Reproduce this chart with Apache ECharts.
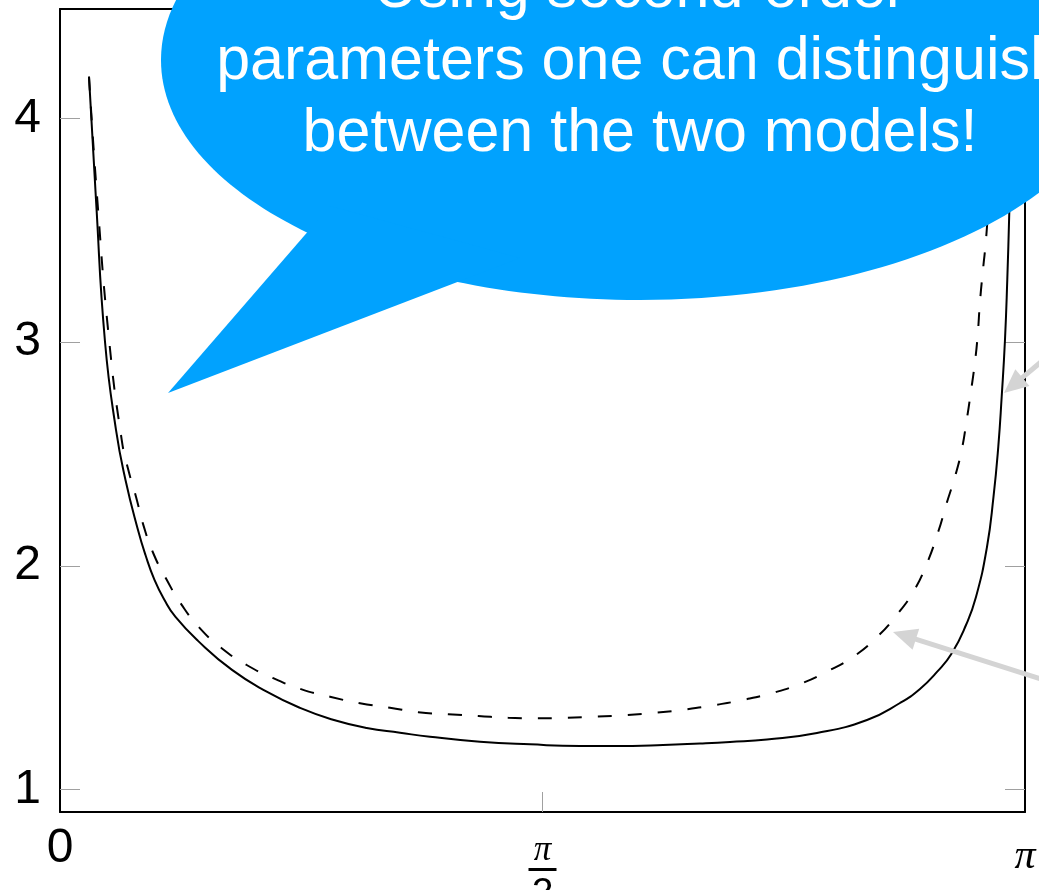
<!DOCTYPE html>
<html>
<head>
<meta charset="utf-8">
<script src="https://cdn.jsdelivr.net/npm/echarts@6/dist/echarts.min.js"></script>
<style>
  html, body { margin: 0; padding: 0; background: #ffffff; }
  #chart { width: 1039px; height: 890px; }
</style>
</head>
<body>
<div id="chart"></div>
<script>
// Axis ticks and their labels
const xTicks = [0, Math.PI / 2, Math.PI];
const xTickLabels = ['0', 'π/2', 'π'];
const yTicks = [1, 2, 3, 4];

// First model (solid curve): [angle, value]
const solidCurve = [
  [0.0944, 4.188], [0.1172, 3.637], [0.1465, 3.002], [0.1823, 2.608],
  [0.2132, 2.384], [0.2539, 2.160], [0.2783, 2.048], [0.3076, 1.937],
  [0.3402, 1.847], [0.3760, 1.771], [0.4493, 1.664], [0.5600, 1.534],
  [0.6729, 1.437], [0.7815, 1.364], [0.8888, 1.311], [0.9985, 1.274],
  [1.1069, 1.253], [1.2045, 1.235], [1.3673, 1.213], [1.5301, 1.201],
  [1.6929, 1.194], [1.8003, 1.194], [1.9631, 1.198], [2.0835, 1.205],
  [2.1812, 1.212], [2.3016, 1.223], [2.4644, 1.252], [2.6272, 1.310],
  [2.7346, 1.386], [2.7997, 1.449], [2.8551, 1.525], [2.9039, 1.610],
  [2.9495, 1.735], [2.9820, 1.860], [3.0178, 2.084], [3.0390, 2.308],
  [3.0546, 2.532], [3.0657, 2.756], [3.0764, 3.010], [3.0839, 3.279],
  [3.0904, 3.579], [3.0959, 3.860], [3.0992, 4.188]
];

// Second model (dashed curve): [angle, value]
const dashedCurve = [
  [0.0944, 4.188], [0.1215, 3.637], [0.1605, 3.001], [0.2009, 2.563],
  [0.2223, 2.429], [0.2474, 2.309], [0.2712, 2.183], [0.3037, 2.056],
  [0.3474, 1.937], [0.3962, 1.825], [0.4558, 1.720], [0.5264, 1.631],
  [0.6078, 1.556], [0.6944, 1.497], [0.7869, 1.447], [0.8790, 1.414],
  [0.9767, 1.385], [1.0743, 1.365], [1.1665, 1.345], [1.2641, 1.336],
  [1.3618, 1.328], [1.4594, 1.320], [1.5519, 1.318], [1.6495, 1.320],
  [1.7472, 1.325], [1.8449, 1.332], [1.9426, 1.343], [2.0402, 1.358],
  [2.1324, 1.377], [2.2245, 1.400], [2.3170, 1.430], [2.4091, 1.471],
  [2.4960, 1.526], [2.5826, 1.593], [2.6588, 1.680], [2.7239, 1.780],
  [2.7779, 1.884], [2.8215, 2.008], [2.8593, 2.153], [2.8866, 2.280],
  [2.9137, 2.399], [2.9355, 2.518], [2.9518, 2.652], [2.9648, 2.772],
  [2.9788, 2.913], [2.9876, 3.033], [2.9951, 3.182], [3.0058, 3.338],
  [3.0146, 3.458], [3.0276, 3.726], [3.0471, 4.188]
];

// Speech-bubble text
const calloutLines = [
  'Using second-order',
  'parameters one can distinguish',
  'between the two models!'
];

const chart = echarts.init(document.getElementById('chart'), null, { renderer: 'canvas' });

const BUBBLE = '#01a2fe';
const ARROW = '#d4d4d4';
const TICK = '#a0a0a0';

function labelFor(v) {
  let best = 0;
  for (let i = 1; i < xTicks.length; i++) {
    if (Math.abs(xTicks[i] - v) < Math.abs(xTicks[best] - v)) best = i;
  }
  const t = xTickLabels[best];
  if (t === 'π/2') return '{sp| }\n{n|π}\n{bar| }\n{d|2}';
  if (t === 'π') return '{sp2| }\n{pi|π}';
  return '{num|' + t + '}';
}

// Grey pointer arrow: shaft plus triangular head ending at (x2, y2)
function arrow(x1, y1, x2, y2) {
  const dx = x2 - x1, dy = y2 - y1, L = Math.hypot(dx, dy);
  const ux = dx / L, uy = dy / L;
  const hl = 24, hw = 11;
  const bx = x2 - ux * hl, by = y2 - uy * hl;
  return [
    { type: 'line', z: 90, shape: { x1: x1, y1: y1, x2: bx + ux * 2, y2: by + uy * 2 },
      style: { stroke: ARROW, lineWidth: 5 } },
    { type: 'polygon', z: 90, shape: { points: [[x2, y2], [bx - uy * hw, by + ux * hw], [bx + uy * hw, by - ux * hw]] },
      style: { fill: ARROW } }
  ];
}

const bubbleText = calloutLines.map((t, i) => ({
  type: 'text', z: 101,
  style: {
    text: t, x: 640, y: -10 + i * 72,
    fill: '#ffffff', font: '61px "Liberation Sans", Arial, Helvetica, sans-serif',
    align: 'center', verticalAlign: 'middle'
  }
}));

const option = {
  backgroundColor: '#ffffff',
  animation: false,
  grid: { left: 60, right: 14, top: 9, bottom: 78, containLabel: false, outerBoundsMode: 'none' },
  xAxis: [
    {
      type: 'value', min: 0, max: Math.PI, position: 'bottom',
      axisLine: { show: true, onZero: false, lineStyle: { color: '#000', width: 2 } },
      axisTick: { show: true, inside: true, length: 20, customValues: [Math.PI / 2], lineStyle: { color: TICK, width: 1 } },
      axisLabel: {
        show: true, customValues: xTicks, margin: 12, formatter: labelFor,
        rich: {
          num: { fontFamily: '"Liberation Sans", Arial, sans-serif', fontSize: 48, color: '#000', lineHeight: 50 },
          sp: { fontSize: 1, lineHeight: 13 },
          sp2: { fontSize: 1, lineHeight: 12 },
          pi: { fontFamily: '"Liberation Serif", "DejaVu Serif", serif', fontStyle: 'italic', fontSize: 42, color: '#000', lineHeight: 42 },
          n: { fontFamily: '"Liberation Serif", "DejaVu Serif", serif', fontStyle: 'italic', fontSize: 35, color: '#000', lineHeight: 28 },
          bar: { width: 28, height: 3, lineHeight: 9, fontSize: 1, backgroundColor: '#000' },
          d: { fontFamily: '"Liberation Sans", Arial, sans-serif', fontSize: 39, color: '#000', lineHeight: 40 }
        }
      },
      splitLine: { show: false }
    },
    {
      type: 'value', min: 0, max: Math.PI, position: 'top',
      axisLine: { show: true, onZero: false, lineStyle: { color: '#000', width: 2 } },
      axisTick: { show: true, inside: true, length: 20, customValues: [Math.PI / 2], lineStyle: { color: TICK, width: 1 } },
      axisLabel: { show: false },
      splitLine: { show: false }
    }
  ],
  yAxis: [
    {
      type: 'value', min: 0.8984, max: 4.4908, position: 'left',
      axisLine: { show: true, onZero: false, lineStyle: { color: '#000', width: 2 } },
      axisTick: { show: true, inside: true, length: 20, customValues: yTicks, lineStyle: { color: TICK, width: 1 } },
      axisLabel: {
        show: true, customValues: yTicks, margin: 19, color: '#000',
        fontFamily: '"Liberation Sans", Arial, sans-serif', fontSize: 48
      },
      splitLine: { show: false }
    },
    {
      type: 'value', min: 0.8984, max: 4.4908, position: 'right',
      axisLine: { show: true, onZero: false, lineStyle: { color: '#000', width: 2 } },
      axisTick: { show: true, inside: true, length: 20, customValues: yTicks, lineStyle: { color: TICK, width: 1 } },
      axisLabel: { show: false },
      splitLine: { show: false }
    }
  ],
  series: [
    {
      name: 'model A', type: 'line', data: solidCurve, xAxisIndex: 0, yAxisIndex: 0,
      showSymbol: false, smooth: 0.5, z: 3,
      lineStyle: { color: '#000', width: 2, type: 'solid' }
    },
    {
      name: 'model B', type: 'line', data: dashedCurve, xAxisIndex: 0, yAxisIndex: 0,
      showSymbol: false, smooth: 0.5, z: 2,
      lineStyle: { color: '#000', width: 2, type: [14, 16] }
    }
  ],
  graphic: [
    ...arrow(1060, 346, 1004, 393),
    ...arrow(1060, 685, 893, 632),
    { type: 'ellipse', z: 100, shape: { cx: 640, cy: 60, rx: 479, ry: 240 }, style: { fill: BUBBLE } },
    { type: 'polygon', z: 100, shape: { points: [[330, 206], [168, 393], [520, 258]] }, style: { fill: BUBBLE } },
    ...bubbleText
  ]
};

chart.setOption(option);
</script>
</body>
</html>
